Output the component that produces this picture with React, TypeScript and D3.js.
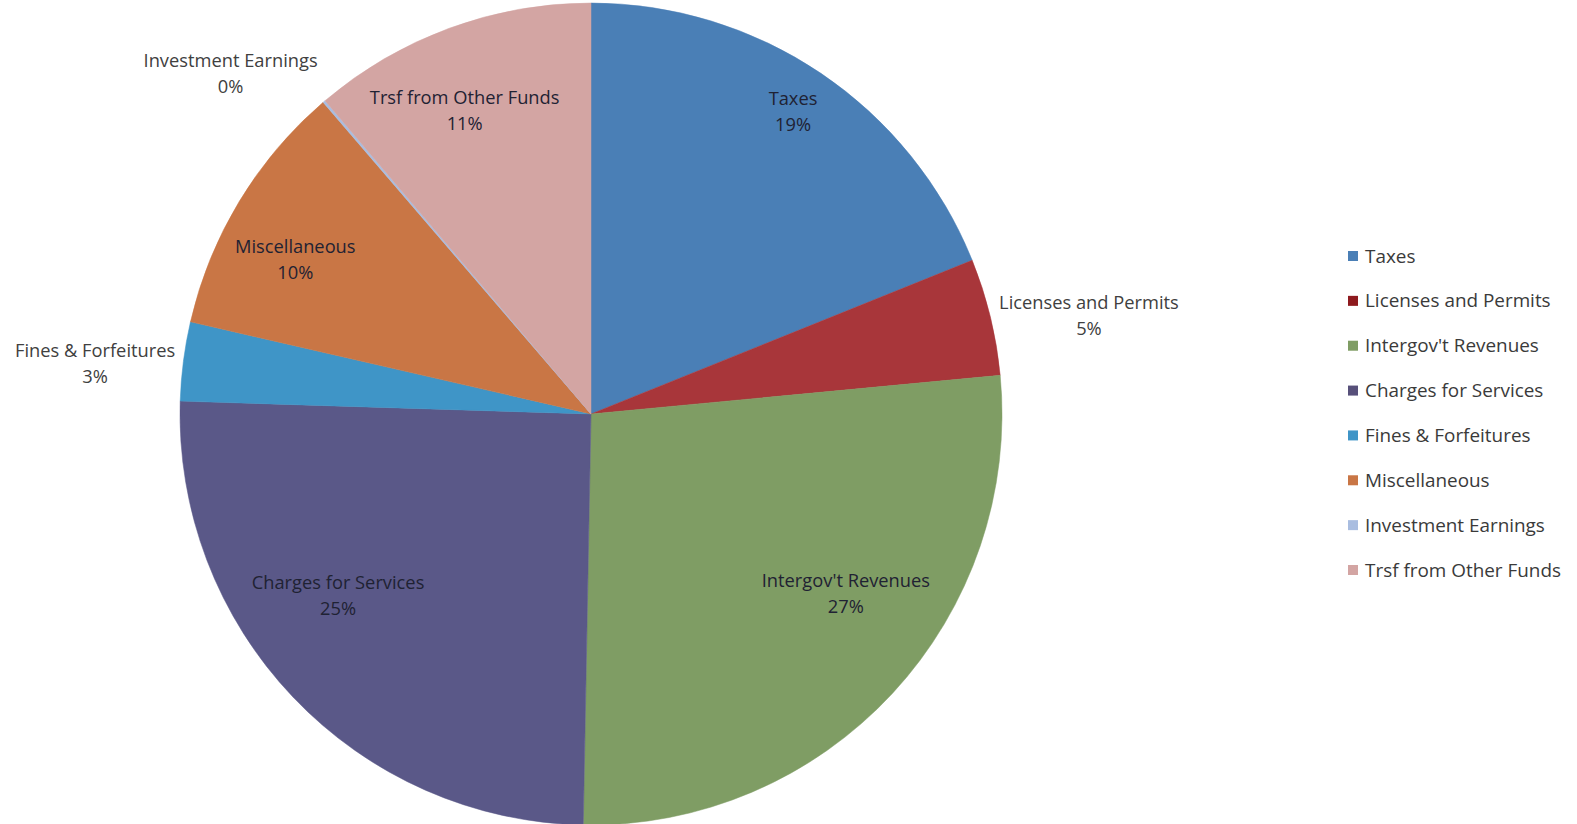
import React from "react";
import * as d3 from "d3";

const categories = [
  "Taxes",
  "Licenses and Permits",
  "Intergov't Revenues",
  "Charges for Services",
  "Fines & Forfeitures",
  "Miscellaneous",
  "Investment Earnings",
  "Trsf from Other Funds",
];
const values = [18.9, 4.6, 26.8, 25.2, 3.1, 10.1, 0.1, 11.2];
const colors = ["#4a7fb6", "#a8363a", "#7f9d64", "#5a5888", "#3f95c7", "#c97645", "#a9bde0", "#d3a5a3"];
const legendColors = ["#4a7fb6", "#8e1a1e", "#7f9d64", "#57507a", "#3f95c7", "#c97645", "#a9bde0", "#d3a5a3"];
// label anchor: polar angle (deg, clockwise from top) and radius factor
const labelAngle = [33.7, 78.8, 125.1, 234.4, 275.9, 297.6, 313.4, 337.4];
const labelRadius = [0.886, 1.235, 0.758, 0.757, 1.213, 0.812, 1.207, 0.8];

const W = 1577;
const H = 824;
const cx = 591;
const cy = 414;
const R = 411;

export default function App() {
  const total = d3.sum(values);
  const pie = d3.pie<number>().sort(null).startAngle(0).endAngle(2 * Math.PI);
  const arcs = pie(values);
  const arc = d3.arc<d3.PieArcDatum<number>>().innerRadius(0).outerRadius(R);
  const legendY = d3.scalePoint<number>().domain(d3.range(categories.length)).range([256, 570]);
  const font = "'Open Sans', sans-serif";
  const fs = 18.3;

  return (
    <svg width={W} height={H} style={{ position: "absolute", left: 0, top: 0, background: "#fff" }}>
      <rect width={W} height={H} fill="#fff" />
      <g transform={`translate(${cx},${cy})`}>
        {arcs.map((a, i) => (
          <path key={i} d={arc(a) || ""} fill={colors[i]} stroke={colors[i]} strokeWidth={0.5} />
        ))}
        {arcs.map((a, i) => {
          const ang = (labelAngle[i] * Math.PI) / 180;
          const rr = labelRadius[i] * R;
          const x = rr * Math.sin(ang);
          const y = -rr * Math.cos(ang);
          const inside = labelRadius[i] < 1;
          const pct = Math.round((values[i] / total) * 100) + "%";
          return (
            <text
              key={"l" + i}
              textAnchor="middle"
              fontFamily={font}
              fontSize={fs}
              fill={inside ? "#1f2233" : "#404040"}
            >
              <tspan x={x} y={y - 12.5 + fs * 0.35}>{categories[i]}</tspan>
              <tspan x={x} y={y + 13.5 + fs * 0.35}>{pct}</tspan>
            </text>
          );
        })}
      </g>
      <g>
        {categories.map((c, i) => (
          <g key={"lg" + i} transform={`translate(1348,${legendY(i)})`}>
            <rect x={0} y={-5} width={10} height={10} fill={legendColors[i]} />
            <text x={17} y={0} dy="0.35em" fontFamily={font} fontSize={18.9} fill="#3a3a3a">
              {c}
            </text>
          </g>
        ))}
      </g>
    </svg>
  );
}
